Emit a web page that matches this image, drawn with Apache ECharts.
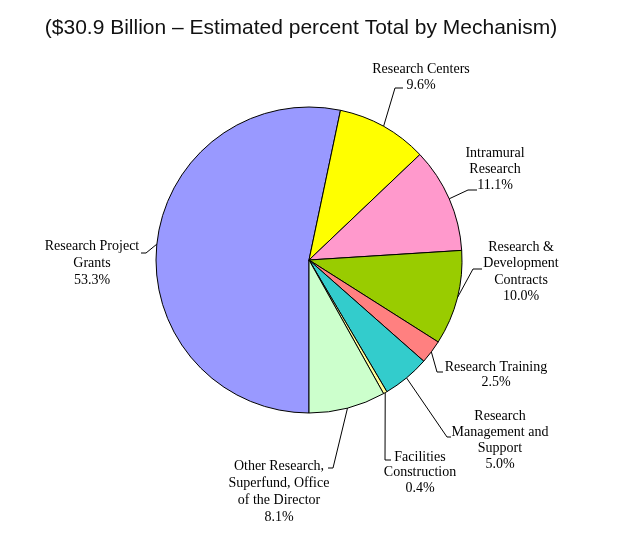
<!DOCTYPE html>
<html>
<head>
<meta charset="utf-8">
<script src="https://cdn.jsdelivr.net/npm/echarts@6/dist/echarts.min.js"></script>
<style>html,body{margin:0;padding:0;background:#fff;}#c{width:630px;height:543px;}</style>
</head>
<body>
<div id="c"></div>
<script>
var titleText = '($30.9 Billion \u2013 Estimated percent Total by Mechanism)';
var categories = ['Research Project Grants', 'Research Centers', 'Intramural Research',
  'Research & Development Contracts', 'Research Training', 'Research Management and Support',
  'Facilities Construction', 'Other Research, Superfund, Office of the Director'];
var values = [53.3, 9.6, 11.1, 10.0, 2.5, 5.0, 0.4, 8.1];
var labelLines = [
  ['Research Project', 'Grants'],
  ['Research Centers'],
  ['Intramural', 'Research'],
  ['Research &', 'Development', 'Contracts'],
  ['Research Training'],
  ['Research', 'Management and', 'Support'],
  ['Facilities', 'Construction'],
  ['Other Research,', 'Superfund, Office', 'of the Director']
];
var colors = ['#9999FF', '#FFFF00', '#FF99CC', '#99CC00', '#FF8080', '#33CCCC', '#FFFF99', '#CCFFCC'];

// label layout: text block centre x, first line centre y, leader elbow and end
var labelPos = [
  {x: 92, y: 246, lh: 17, elbow: [146, 253], end: [141, 253]},
  {x: 421, y: 69, lh: 16, elbow: [395, 88], end: [403, 88]},
  {x: 495, y: 153, lh: 16, elbow: [468, 190], end: [477, 190]},
  {x: 521, y: 247, lh: 16.5, elbow: [473, 269], end: [482, 269]},
  {x: 496, y: 367, lh: 15.5, elbow: [437, 372], end: [443, 372]},
  {x: 500, y: 416, lh: 16, elbow: [447, 437], end: [451, 437]},
  {x: 420, y: 457, lh: 15.5, elbow: [385, 460], end: [391, 460]},
  {x: 279, y: 466, lh: 17, elbow: [333, 468], end: [328, 468]}
];

var data = categories.map(function (c, i) {
  var lines = labelLines[i].concat([values[i].toFixed(1) + '%']);
  return {
    name: c,
    value: values[i],
    itemStyle: {color: colors[i]},
    label: {formatter: lines.join('\n'), lineHeight: labelPos[i].lh}
  };
});

var chart = echarts.init(document.getElementById('c'));
chart.setOption({
  animation: false,
  backgroundColor: '#fff',
  title: {
    text: titleText,
    left: 296, top: 13, textAlign: 'center',
    textStyle: {fontFamily: 'Liberation Sans', fontSize: 21, fontWeight: 'normal', color: '#111'}
  },
  series: [{
    type: 'pie',
    center: [309, 260],
    radius: [0, 153],
    startAngle: -90,
    clockwise: true,
    data: data,
    itemStyle: {borderColor: '#000', borderWidth: 1},
    emphasis: {disabled: true},
    label: {
      show: true,
      position: 'outside',
      fontFamily: 'Liberation Serif',
      fontSize: 14,
      color: '#000',
      align: 'center'
    },
    labelLine: {show: true, lineStyle: {color: '#000', width: 1}, length: 10, length2: 10, smooth: false},
    labelLayout: function (params) {
      var p = labelPos[params.dataIndex];
      var pts = params.labelLinePoints;
      var start = pts ? pts[0] : p.elbow;
      return {
        x: p.x,
        y: p.y - p.lh / 2,
        align: 'center',
        verticalAlign: 'top',
        labelLinePoints: [start, p.elbow, p.end]
      };
    }
  }]
});
</script>
</body>
</html>
